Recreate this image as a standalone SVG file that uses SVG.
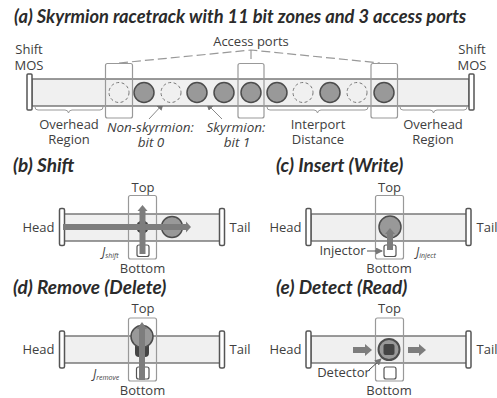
<svg xmlns="http://www.w3.org/2000/svg" width="497" height="398" viewBox="0 0 497 398">
<style>
text{font-family:"Open Sans","Liberation Sans",sans-serif;fill:#404040;font-size:13px;text-anchor:middle}
.t{font-family:Lato,"Open Sans",sans-serif;font-weight:700;font-style:italic;font-size:19px;fill:#2b2b2b;text-anchor:start}
.i{font-style:italic;font-size:13.500px}
.j{font-style:italic;font-size:12px;text-anchor:start}
.j tspan{font-size:7px}
.track{fill:#f0f0f0;stroke:#666;stroke-width:1.3}
.end{fill:#fff;stroke:#555;stroke-width:1.5}
.port{fill:none;stroke:#999;stroke-width:1.2}
.sk{fill:#999;stroke:#4d4d4d;stroke-width:1.5}
.ns{fill:none;stroke:#777;stroke-width:1;stroke-dasharray:3 2.5}
.cell{fill:#fff;stroke:#555;stroke-width:1.2}
.cur{fill:none;stroke:#7d7d7d;stroke-width:6}
.brace{fill:none;stroke:#999;stroke-width:1}
.lead{fill:none;stroke:#888;stroke-width:1}
.dash{fill:none;stroke:#999;stroke-width:1.2;stroke-dasharray:9 4}
</style>
<defs>
<marker id="sa" markerWidth="7" markerHeight="7" refX="6" refY="3.500" orient="auto" markerUnits="userSpaceOnUse"><path d="M0 0L7 3.500L0 7Z" fill="#777"/></marker>
</defs>
<text class="t" x="14" y="23" style="font-size:18.250px">(a) Skyrmion racetrack with 11 bit zones and 3 access ports</text>
<text class="t" x="13" y="172">(b) Shift</text>
<text class="t" x="276" y="172">(c) Insert (Write)</text>
<text class="t" x="13" y="294">(d) Remove (Delete)</text>
<text class="t" x="276" y="294">(e) Detect (Read)</text>

<g id="connectors">
<path class="dash" d="M119 63L251 50L380 63M251 50V63"/>
<path class="brace" d="M35 107q0 3 3 3H65q3 0 3.500 3q.5-3 3.500-3H100q3 0 3-3"/>
<path class="brace" d="M267 107q0 3 3 3H314q3 0 3.500 3q.5-3 3.500-3H365q3 0 3-3"/>
<path class="brace" d="M400 107q0 3 3 3H430q3 0 3.500 3q.5-3 3.500-3H464q3 0 3-3"/>
<path class="lead" d="M149 119L163 104" marker-end="url(#sa)"/>
<path class="lead" d="M222 119L207 104" marker-end="url(#sa)"/>
</g>

<g id="racetrack-a">
<rect class="track" x="32" y="79" width="437" height="27"/>
<rect class="end" x="27" y="74" width="5" height="36" rx="1"/>
<rect class="end" x="469" y="74" width="5" height="36" rx="1"/>
<circle class="ns" cx="119" cy="92.500" r="10"/><circle class="sk" cx="144" cy="92.500" r="10"/>
<circle class="ns" cx="171" cy="92.500" r="10"/><circle class="sk" cx="197" cy="92.500" r="10"/>
<circle class="sk" cx="224" cy="92.500" r="10"/><circle class="sk" cx="251" cy="92.500" r="10"/>
<circle class="sk" cx="277" cy="92.500" r="10"/><circle class="ns" cx="303" cy="92.500" r="10"/>
<circle class="sk" cx="330" cy="92.500" r="10"/><circle class="ns" cx="357" cy="92.500" r="10"/>
<circle class="sk" cx="384" cy="92.500" r="10"/>
<rect class="port" x="105.500" y="63.500" width="27" height="54.500" rx="2"/>
<rect class="port" x="238" y="63.500" width="26" height="54.500" rx="2"/>
<rect class="port" x="371" y="63.500" width="26.500" height="54.500" rx="2"/>
<text x="251" y="46">Access ports</text>
<text y="54"><tspan x="29">Shift</tspan><tspan x="29" dy="16">MOS</tspan></text>
<text y="54"><tspan x="472">Shift</tspan><tspan x="472" dy="16">MOS</tspan></text>
<text y="129"><tspan x="69">Overhead</tspan><tspan x="69" dy="15">Region</tspan></text>
<text y="129"><tspan x="433">Overhead</tspan><tspan x="433" dy="15">Region</tspan></text>
<text y="129"><tspan x="318">Interport</tspan><tspan x="318" dy="15">Distance</tspan></text>
<text class="i" y="132"><tspan x="150.500">Non-skyrmion:</tspan><tspan x="151" dy="15">bit 0</tspan></text>
<text class="i" y="132"><tspan x="236">Skyrmion:</tspan><tspan x="237" dy="15">bit 1</tspan></text>
</g>

<g id="shift-b">
<rect class="track" x="64" y="214" width="156" height="27"/>
<rect class="end" x="59.500" y="208.500" width="5" height="37" rx="1.500"/>
<rect class="end" x="219.500" y="208.500" width="5" height="37" rx="1.500"/>
<rect class="port" x="128.500" y="195.500" width="28" height="63.500" rx="2"/>
<circle class="sk" cx="172" cy="227" r="10.500"/>
<rect class="cell" x="137" y="245" width="12" height="11.500" rx="2"/>
<circle cx="142.500" cy="227" r="6.500" fill="#444"/>
<path d="M63 227H187" class="cur"/><path d="M186 221.500L191 227L186 232.500Z" fill="#7d7d7d"/>
<path d="M142.500 254V210" class="cur"/><path d="M137.500 211L142.500 205L147.500 211Z" fill="#7d7d7d"/>
<text x="143" y="192">Top</text><text x="142.500" y="273">Bottom</text>
<text x="38.500" y="232">Head</text><text x="240" y="232">Tail</text>
<text class="j" x="102" y="256">J<tspan dy="2">shift</tspan></text>
</g>

<g id="insert-c">
<rect class="track" x="311" y="214" width="156" height="27"/>
<rect class="end" x="306" y="208.500" width="5" height="37" rx="1.500"/>
<rect class="end" x="466" y="208.500" width="5" height="37" rx="1.500"/>
<rect class="port" x="375.500" y="195.500" width="28" height="63.500" rx="2"/>
<circle class="sk" cx="390" cy="227" r="11"/>
<rect class="cell" x="384" y="245" width="12" height="11.500" rx="2"/>
<path d="M390 250V233" class="cur"/><path d="M385 234L390 228L395 234Z" fill="#7d7d7d"/>
<path class="lead" d="M367 251H382" marker-end="url(#sa)" style="stroke:#555"/>
<text x="342.500" y="255">Injector</text>
<text x="389.500" y="192">Top</text><text x="389" y="273">Bottom</text>
<text x="285.500" y="232">Head</text><text x="487" y="232">Tail</text>
<text class="j" x="416" y="256">J<tspan dy="2">inject</tspan></text>
</g>

<g id="remove-d">
<rect class="track" x="64" y="336" width="156" height="27"/>
<rect class="end" x="59.500" y="331" width="5" height="37" rx="1.500"/>
<rect class="end" x="219.500" y="331" width="5" height="37" rx="1.500"/>
<rect class="port" x="128.500" y="318" width="28" height="63" rx="2"/>
<path d="M135 340H149V353Q149 357 145 357H139Q135 357 135 353Z" fill="#444"/>
<circle class="sk" cx="142" cy="336.500" r="11"/>
<rect class="cell" x="136.500" y="367" width="12.500" height="12" rx="2"/>
<path d="M142 380V328" class="cur"/><path d="M137 329L142 322L147 329Z" fill="#7d7d7d"/>
<text x="143" y="313">Top</text><text x="142.500" y="395">Bottom</text>
<text x="38.500" y="354">Head</text><text x="240" y="354">Tail</text>
<text class="j" x="93" y="378">J<tspan dy="2">remove</tspan></text>
</g>

<g id="detect-e">
<rect class="track" x="311" y="336" width="156" height="27"/>
<rect class="end" x="306" y="331" width="5" height="37" rx="1.500"/>
<rect class="end" x="466" y="331" width="5" height="37" rx="1.500"/>
<rect class="port" x="375.500" y="318" width="28" height="63" rx="2"/>
<circle class="sk" cx="389" cy="349.500" r="10.500" style="stroke-width:2"/>
<rect x="383.500" y="344" width="11" height="11" rx="2" fill="#444"/>
<rect class="cell" x="384" y="367" width="12" height="12" rx="2"/>
<path d="M353 350H366" class="cur"/><path d="M365 344L372 350L365 356Z" fill="#7d7d7d"/>
<path d="M408 350H420" class="cur"/><path d="M419 344L426 350L419 356Z" fill="#7d7d7d"/>
<path class="lead" d="M369 370L381 359" marker-end="url(#sa)" style="stroke:#444"/>
<text x="343.500" y="377">Detector</text>
<text x="389.500" y="313">Top</text><text x="389" y="395">Bottom</text>
<text x="285.500" y="354">Head</text><text x="487" y="354">Tail</text>
</g>
</svg>
